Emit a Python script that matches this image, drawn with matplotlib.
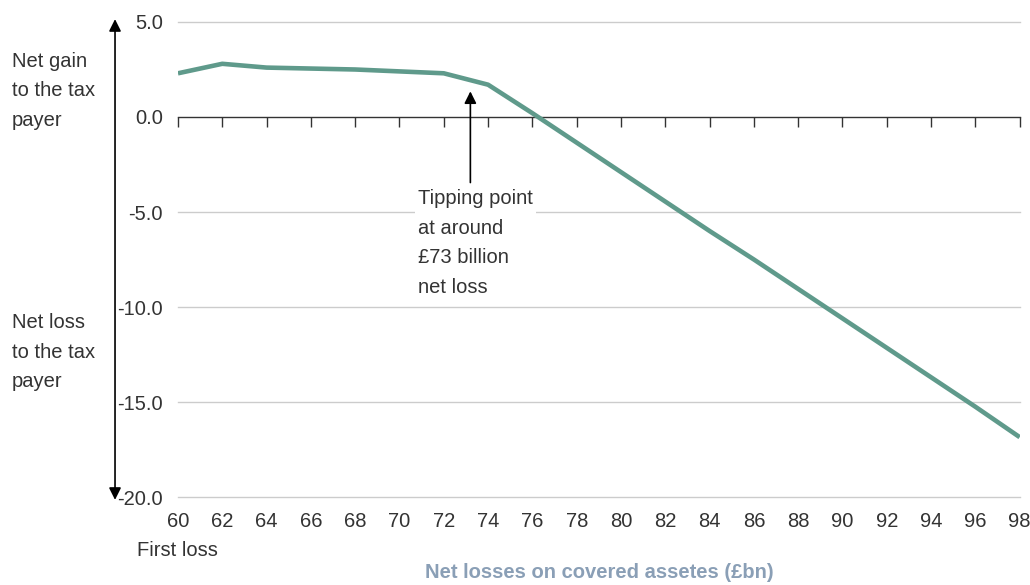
import matplotlib
matplotlib.use("Agg")
import matplotlib.pyplot as plt

plt.rcParams['font.family'] = ['Liberation Sans', 'DejaVu Sans']

x_vals = [60, 62, 64, 66, 68, 70, 72, 74, 76, 78, 80, 82, 84, 86, 88, 90, 92, 94, 96, 98]
net_gain = [2.3, 2.8, 2.6, 2.55, 2.5, 2.4, 2.3, 1.7, 0.2, -1.35, -2.9, -4.45, -6.0, -7.5,
            -9.05, -10.6, -12.15, -13.7, -15.25, -16.85]
y_ticks = [5.0, 0.0, -5.0, -10.0, -15.0, -20.0]
x_ticks = list(range(60, 100, 2))
tip_x = 73.2

line_color = '#5f9a8b'
text_color = '#333333'
fs = 14.5

fig = plt.figure(figsize=(10.3, 5.85), dpi=100)
ax = fig.add_axes([0.1728, 0.1504, 0.8172, 0.812])
ax.set_xlim(60, 98)
ax.set_ylim(-20, 5)

for yv in y_ticks:
    if yv != 0:
        ax.axhline(yv, color='#cccccc', lw=1.0, zorder=1, clip_on=False)

ax.plot(x_vals, net_gain, color=line_color, lw=3.3, zorder=4, solid_capstyle='butt')

# spines / zero axis with ticks
for s in ['top', 'right', 'left']:
    ax.spines[s].set_visible(False)
ax.spines['bottom'].set_position(('data', 0))
ax.spines['bottom'].set_color('#333333')
ax.spines['bottom'].set_linewidth(1.0)
ax.spines['bottom'].set_zorder(2)
ax.set_xticks(x_ticks)
ax.tick_params(axis='x', direction='out', length=7, width=1.0, color='#333333', labelbottom=False)

sec = ax.secondary_xaxis('bottom')
sec.set_xticks(x_ticks)
sec.set_xticklabels([str(v) for v in x_ticks])
sec.tick_params(length=0, pad=11, labelsize=fs, labelcolor=text_color)
sec.spines['bottom'].set_visible(False)

ax.set_yticks(y_ticks)
ax.set_yticklabels([f"{v:.1f}" for v in y_ticks])
ax.tick_params(axis='y', length=0, pad=11, labelsize=fs, labelcolor=text_color)

# vertical double arrow
ax.annotate('', xy=(-0.0748, 5.15), xytext=(-0.0748, -20.15),
            xycoords=('axes fraction', 'data'), textcoords=('axes fraction', 'data'),
            arrowprops=dict(arrowstyle='<|-|>', color='black', lw=1.2,
                            mutation_scale=18, shrinkA=0, shrinkB=0),
            annotation_clip=False)

fig.text(12/1030, 1 - 91/585, "Net gain\nto the tax\npayer", fontsize=fs, color=text_color,
         ha='left', va='center', linespacing=1.7)
fig.text(12/1030, 1 - 352/585, "Net loss\nto the tax\npayer", fontsize=fs, color=text_color,
         ha='left', va='center', linespacing=1.7)

# tipping point annotation
ax.annotate('', xy=(tip_x, 1.35), xytext=(tip_x, -3.45),
            arrowprops=dict(arrowstyle='-|>', color='black', lw=1.2, mutation_scale=18,
                            shrinkA=0, shrinkB=0), zorder=5)
ax.text(70.85, -3.8, "Tipping point\nat around\n£73 billion\nnet loss", fontsize=fs,
        color=text_color, ha='left', va='top', linespacing=1.7, zorder=3,
        bbox=dict(facecolor='white', edgecolor='none', pad=2))

fig.text(137/1030, 1 - 550/585, "First loss", fontsize=fs, color=text_color, ha='left', va='center')
fig.text(599/1030, 1 - 572/585, "Net losses on covered assetes (£bn)", fontsize=fs,
         color='#8a9fb6', fontweight='bold', ha='center', va='center')

fig.savefig('out.png', dpi=100)
